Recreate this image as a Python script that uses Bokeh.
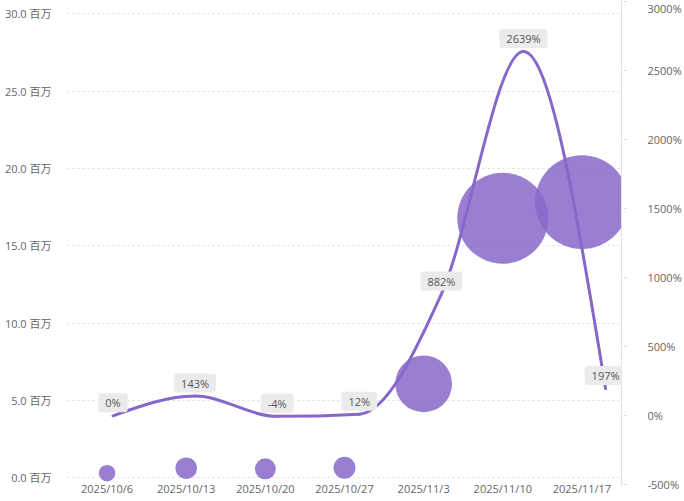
from bokeh.plotting import figure
from bokeh.models import (Range1d, LinearAxis, FixedTicker,
                          PrintfTickFormatter, Label, ColumnDataSource)
from bokeh.embed import file_html
from bokeh.resources import INLINE
import numpy as np

# ---------------- data ----------------
weeks = ["2025/10/6", "2025/10/13", "2025/10/20", "2025/10/27",
         "2025/11/3", "2025/11/10", "2025/11/17"]
amount_m = [0.30, 0.62, 0.58, 0.65, 6.08, 16.79, 17.83]      # 百万
growth_pct = [0, 143, -4, 12, 882, 2639, 197]               # %
growth_labels = ["0%", "143%", "-4%", "12%", "882%", "2639%", "197%"]
left_ticks = [0, 5, 10, 15, 20, 25, 30]
right_ticks = [-500, 0, 500, 1000, 1500, 2000, 2500, 3000]

# ---------------- style ----------------
FONT = "Open Sans, Noto Sans CJK SC"
PURPLE = "#8867ca"
TXT = "#666666"

n = len(weeks)
cat_x = np.arange(n) + 0.5          # category centres (band scale)

p = figure(width=684, height=501,
           x_range=Range1d(0, n),
           y_range=Range1d(-0.498, 30.873),
           output_backend="svg", toolbar_location=None,
           min_border_left=67, min_border_right=63,
           min_border_top=0, min_border_bottom=16)
p.outline_line_color = None
p.background_fill_color = "white"
p.border_fill_color = "white"
p.extra_y_ranges = {"pct": Range1d(-505, 3009)}
p.extra_x_ranges = {"seq": Range1d(-0.554, 6.194)}

# grid
p.xgrid.grid_line_color = None
p.ygrid.grid_line_color = "#dcdcdc"
p.ygrid.grid_line_dash = "2 3"
p.ygrid.ticker = FixedTicker(ticks=left_ticks)

# left axis
ya = p.yaxis[0]
ya.ticker = FixedTicker(ticks=left_ticks)
ya.formatter = PrintfTickFormatter(format="%.1f 百万")
ya.axis_line_color = None
ya.major_tick_line_color = None
ya.minor_tick_line_color = None
ya.major_label_standoff = 10
ya.major_label_text_font = FONT
ya.major_label_text_font_size = "11px"
ya.major_label_text_color = TXT

# x axis
xa = p.xaxis[0]
xa.ticker = FixedTicker(ticks=list(cat_x))
xa.major_label_overrides = {float(x): w for x, w in zip(cat_x, weeks)}
xa.axis_line_color = None
xa.major_tick_line_color = None
xa.minor_tick_line_color = None
xa.major_tick_out = 0
xa.major_label_standoff = -5
xa.major_label_text_font = FONT
xa.major_label_text_font_size = "11px"
xa.major_label_text_color = TXT

# right axis
ra = LinearAxis(y_range_name="pct",
                ticker=FixedTicker(ticks=right_ticks),
                formatter=PrintfTickFormatter(format="%d%%"))
ra.axis_line_color = "#e3e3e3"
ra.major_tick_in = 0
ra.major_tick_out = 16
ra.major_tick_line_color = "#cfcfcf"
ra.major_tick_line_dash = "0 11 2 2 2 2"
ra.minor_tick_line_color = None
ra.major_label_standoff = 10
ra.major_label_text_font = FONT
ra.major_label_text_font_size = "11px"
ra.major_label_text_color = TXT
p.add_layout(ra, "right")

# ---------------- smooth growth line (monotone cubic as bezier) -------------
xs = np.arange(len(growth_pct), dtype=float)
ys = np.array(growth_pct, dtype=float)
sec = np.diff(ys) / np.diff(xs)
m = np.zeros_like(ys)
for i in range(1, len(ys) - 1):
    s0, s1 = sec[i - 1], sec[i]
    pp = (s0 + s1) / 2.0
    m[i] = (np.sign(s0) + np.sign(s1)) * min(abs(s0), abs(s1), 0.5 * abs(pp))
m[0] = (3 * sec[0] - m[1]) / 2.0
m[-1] = (3 * sec[-1] - m[-2]) / 2.0
h = np.diff(xs)
bz = ColumnDataSource(dict(
    x0=xs[:-1], y0=ys[:-1], x1=xs[1:], y1=ys[1:],
    cx0=xs[:-1] + h / 3, cy0=ys[:-1] + m[:-1] * h / 3,
    cx1=xs[1:] - h / 3, cy1=ys[1:] - m[1:] * h / 3))
p.bezier(x0="x0", y0="y0", x1="x1", y1="y1", cx0="cx0", cy0="cy0",
         cx1="cx1", cy1="cy1", source=bz, line_color=PURPLE, line_width=3,
         line_cap="round", x_range_name="seq", y_range_name="pct")

# ---------------- bubbles ----------------
sizes = [2 * (2.5 + 10.5 * np.sqrt(v)) for v in amount_m]
src = ColumnDataSource(dict(x=cat_x, amount=amount_m, size=sizes))
p.scatter(x="x", y="amount", size="size", source=src,
          fill_color=PURPLE, fill_alpha=0.85, line_color=None)

# ---------------- data labels ----------------
for i, (g, t) in enumerate(zip(growth_pct, growth_labels)):
    p.add_layout(Label(x=i, y=g, x_range_name="seq", y_range_name="pct",
                       text=t, y_offset=13, text_align="center",
                       text_baseline="middle", text_font=FONT,
                       text_font_size="11px", text_color="#555555",
                       background_fill_color="#ebebeb",
                       border_radius=3,
                       padding=dict(left=7, right=7, top=2, bottom=2)))

open("out.html", "w").write(file_html(p, INLINE))
